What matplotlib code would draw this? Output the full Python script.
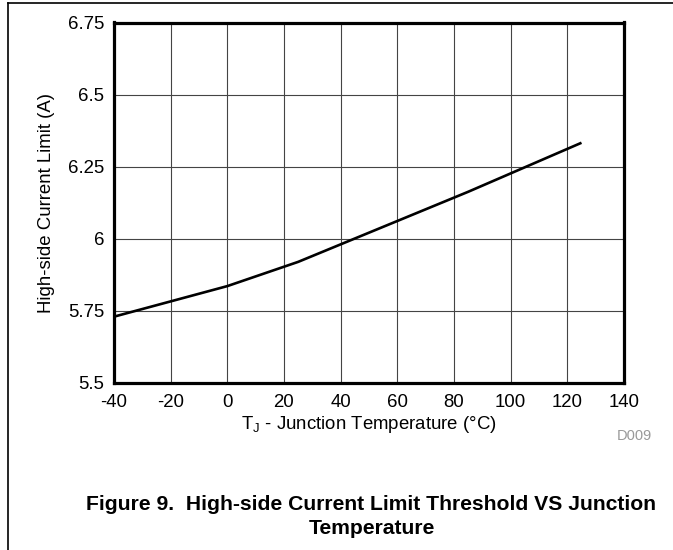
import matplotlib
matplotlib.use("Agg")
import matplotlib.pyplot as plt
from matplotlib.lines import Line2D

plt.rcParams['font.family'] = ['Liberation Sans', 'DejaVu Sans']
plt.rcParams['axes.unicode_minus'] = False

# Data
temp = [-40, 0, 25, 85, 125]
ilim = [5.73, 5.836, 5.92, 6.163, 6.333]
xticks = [-40, -20, 0, 20, 40, 60, 80, 100, 120, 140]
yticks = [5.5, 5.75, 6.0, 6.25, 6.5, 6.75]
ytick_labels = ["5.5", "5.75", "6", "6.25", "6.5", "6.75"]

W, H = 673, 550
fig = plt.figure(figsize=(W/100, H/100), dpi=100)
ax = fig.add_axes([114/W, 1-383/H, 510/W, 360.5/H])

ax.plot(temp, ilim, color='black', linewidth=1.9, solid_capstyle='butt', zorder=3)

ax.set_xlim(-40, 140)
ax.set_ylim(5.5, 6.75)
ax.set_xticks(xticks)
ax.set_yticks(yticks)
ax.set_yticklabels(ytick_labels)
ax.tick_params(length=0, labelsize=13.4)
ax.tick_params(axis='x', pad=8)
ax.tick_params(axis='y', pad=7)
ax.grid(True, color='#444444', linewidth=0.8)
ax.set_axisbelow(True)
for s in ax.spines.values():
    s.set_linewidth(2.3)

ax.set_xlabel(r"T$_\mathregular{J}$ - Junction Temperature (°C)", fontsize=13.4, labelpad=2)
ax.set_ylabel("High-side Current Limit (A)", fontsize=13.4, labelpad=9)

fig.text(652/W, 1-436/H, "D009", ha='right', va='center', fontsize=10.5, color='#999999')

fig.text(371.5/W, 1-505/H, "Figure 9.  High-side Current Limit Threshold VS Junction",
         ha='center', va='center', fontsize=15.2, fontweight='bold')
fig.text(371.5/W, 1-528/H, "Temperature", ha='center', va='center',
         fontsize=15.2, fontweight='bold')

# page frame lines
fig.add_artist(Line2D([8/W, 1], [1-3/H, 1-3/H], color='black', linewidth=1.2))
fig.add_artist(Line2D([8/W, 8/W], [0, 1-3/H], color='black', linewidth=1.2))

fig.savefig("out.png", dpi=100)
